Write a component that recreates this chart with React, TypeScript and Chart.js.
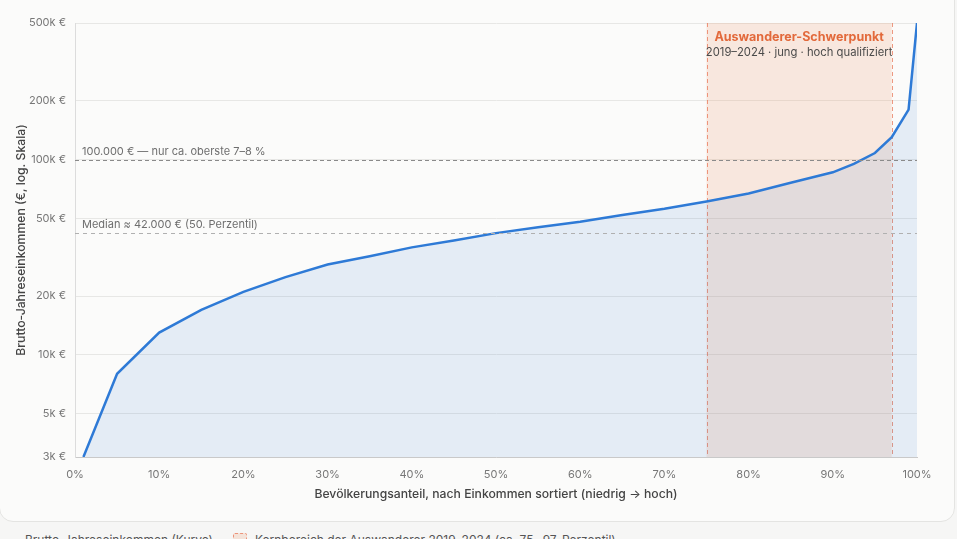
import React, { useEffect, useRef } from "react";
import { Chart, registerables } from "chart.js";

Chart.register(...registerables);

// Income distribution: percentile of population vs. gross annual income
const percentiles = [1, 5, 10, 15, 20, 25, 30, 35, 40, 45, 50, 55, 60, 65, 70, 75, 80, 85, 90, 92.5, 95, 97, 99, 100];
const incomes = [3000, 8000, 13000, 17000, 21000, 25000, 29000, 32000, 35500, 38500, 42000, 45000, 48000, 52000, 56000, 61000, 67000, 76000, 86000, 95000, 108000, 130000, 180000, 500000];

const yTicks = [3000, 5000, 10000, 20000, 50000, 100000, 200000, 500000];
const xTicks = [0, 10, 20, 30, 40, 50, 60, 70, 80, 90, 100];

const bandRange = [75, 97];
const bandTitle = "Auswanderer-Schwerpunkt";
const bandSubtitle = "2019–2024 · jung · hoch qualifiziert";

const refLines = [
  { value: 100000, label: "100.000 € — nur ca. oberste 7–8 %", color: "#8a8a8a", dash: [4, 3] },
  { value: 42000, label: "Median ≈ 42.000 € (50. Perzentil)", color: "#b0b0b0", dash: [4, 4] },
];

const FONT = "Inter, 'Noto Sans', sans-serif";
const LINE = "#2e7ad6";
const ORANGE = "#e2693b";

const bandPlugin = {
  id: "band",
  beforeDatasetsDraw(chart: any) {
    const { ctx, chartArea, scales } = chart;
    const x0 = scales.x.getPixelForValue(bandRange[0]);
    const x1 = scales.x.getPixelForValue(bandRange[1]);
    ctx.save();
    ctx.fillStyle = "rgba(240,134,84,0.17)";
    ctx.fillRect(x0, chartArea.top, x1 - x0, chartArea.bottom - chartArea.top);
    ctx.strokeStyle = "rgba(232,120,90,0.75)";
    ctx.lineWidth = 1;
    ctx.setLineDash([4, 3]);
    for (const x of [x0, x1]) {
      ctx.beginPath();
      ctx.moveTo(Math.round(x) + 0.5, chartArea.top);
      ctx.lineTo(Math.round(x) + 0.5, chartArea.bottom);
      ctx.stroke();
    }
    ctx.restore();
  },
  afterDatasetsDraw(chart: any) {
    const { ctx, chartArea, scales } = chart;
    ctx.save();
    // reference lines with labels
    for (const r of refLines) {
      const y = Math.round(scales.y.getPixelForValue(r.value)) + 0.5;
      ctx.strokeStyle = r.color;
      ctx.lineWidth = 1;
      ctx.setLineDash(r.dash);
      ctx.beginPath();
      ctx.moveTo(chartArea.left, y);
      ctx.lineTo(chartArea.right, y);
      ctx.stroke();
      ctx.setLineDash([]);
      ctx.fillStyle = "#6e6e6e";
      ctx.font = `11px ${FONT}`;
      ctx.textAlign = "left";
      ctx.textBaseline = "bottom";
      ctx.fillText(r.label, chartArea.left + 7, y - 3);
    }
    // band caption
    const cx = (scales.x.getPixelForValue(bandRange[0]) + scales.x.getPixelForValue(bandRange[1])) / 2;
    ctx.textAlign = "center";
    ctx.textBaseline = "middle";
    ctx.fillStyle = ORANGE;
    ctx.font = `bold 12.5px ${FONT}`;
    ctx.fillText(bandTitle, cx, chartArea.top + 14);
    ctx.fillStyle = "#4a4a4a";
    ctx.font = `11.25px ${FONT}`;
    ctx.fillText(bandSubtitle, cx, chartArea.top + 30);
    ctx.restore();
  },
};

function IncomeChart() {
  const ref = useRef<HTMLCanvasElement | null>(null);
  useEffect(() => {
    if (!ref.current) return;
    const chart = new Chart(ref.current, {
      type: "line",
      data: {
        datasets: [
          {
            label: "Brutto-Jahreseinkommen (Kurve)",
            data: percentiles.map((p, i) => ({ x: p, y: incomes[i] })),
            borderColor: LINE,
            borderWidth: 2.5,
            backgroundColor: "rgba(46,122,214,0.11)",
            fill: "start",
            tension: 0,
            pointRadius: 0,
          },
        ],
      },
      options: {
        animation: false,
        responsive: false,
        maintainAspectRatio: false,
        layout: { padding: { left: 10, right: 40, top: 23, bottom: 15 } },
        plugins: { legend: { display: false }, tooltip: { enabled: false } },
        scales: {
          x: {
            type: "linear",
            min: 0,
            max: 100,
            afterBuildTicks: (s: any) => {
              s.ticks = xTicks.map((v) => ({ value: v }));
            },
            afterFit: (s: any) => {
              s.height = 49;
            },
            ticks: {
              callback: (v: any) => v + "%",
              color: "#777",
              font: { family: FONT, size: 11 },
              padding: 11,
              maxRotation: 0,
            },
            grid: { display: false, drawTicks: false },
            border: { display: true, color: "#c9c9c9" },
            title: {
              display: true,
              text: "Bevölkerungsanteil, nach Einkommen sortiert (niedrig → hoch)",
              color: "#444",
              font: { family: FONT, size: 12.2, weight: "500" },
              padding: { top: 4, bottom: 4 },
            },
          },
          y: {
            type: "logarithmic",
            min: 3000,
            max: 500000,
            afterBuildTicks: (s: any) => {
              s.ticks = yTicks.map((v) => ({ value: v }));
            },
            afterFit: (s: any) => {
              s.width = 65;
            },
            ticks: {
              callback: (v: any) => v / 1000 + "k €",
              color: "#777",
              font: { family: FONT, size: 11 },
              padding: 9,
            },
            grid: { color: "#e7e7e5", drawTicks: false },
            border: { display: true, color: "#dcdcdc" },
            title: {
              display: true,
              text: "Brutto-Jahreseinkommen (€, log. Skala)",
              color: "#444",
              font: { family: FONT, size: 12.2, weight: "500" },
              padding: { top: 4, bottom: 4 },
            },
          },
        },
      },
      plugins: [bandPlugin],
    });
    return () => chart.destroy();
  }, []);
  return <canvas ref={ref} width={957} height={521} style={{ position: "absolute", left: 0, top: 0, width: 957, height: 521 }} />;
}

export default function App() {
  return (
    <div style={{ position: "fixed", inset: 0, background: "#f6f6f5", overflow: "hidden", fontFamily: FONT }}>
      <div
        style={{
          position: "absolute",
          left: -1,
          top: -20,
          width: 956,
          height: 542,
          border: "1px solid #e4e4e2",
          borderRadius: 14,
          background: "#fbfbfa",
          boxSizing: "border-box",
        }}
      />
      <IncomeChart />
      <div style={{ position: "absolute", left: 0, top: 532, display: "flex", alignItems: "center", fontSize: 12, color: "#555", whiteSpace: "nowrap" }}>
        <span style={{ display: "inline-block", width: 16, height: 0, borderTop: `2.5px solid ${LINE}`, marginLeft: 3, marginRight: 6 }} />
        <span>Brutto-Jahreseinkommen (Kurve)</span>
        <span
          style={{
            display: "inline-block",
            width: 12,
            height: 12,
            marginLeft: 20,
            marginRight: 8,
            background: "rgba(240,134,84,0.17)",
            border: "1px dashed rgba(232,120,90,0.75)",
            borderRadius: 2,
          }}
        />
        <span>Kernbereich der Auswanderer 2019–2024 (ca. 75.–97. Perzentil)</span>
      </div>
    </div>
  );
}
